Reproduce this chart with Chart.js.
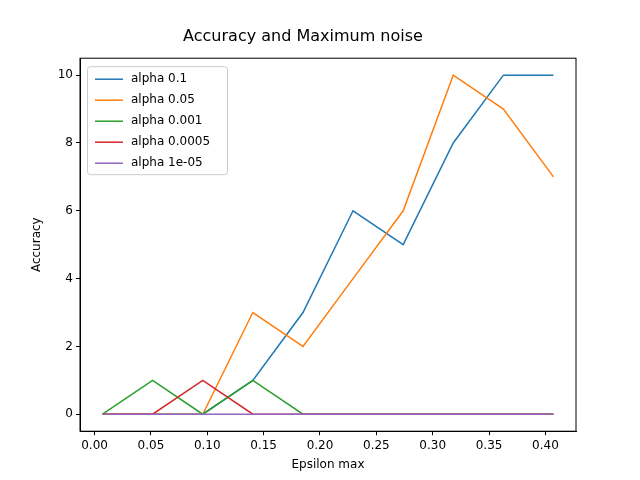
<!DOCTYPE html>
<html><head><script src="https://cdn.jsdelivr.net/npm/chart.js@4"></script>
<style>body{margin:0}canvas{display:block}</style></head>
<body><canvas id="c" width="640" height="480"></canvas>
<script>
const xs=[0.0071,0.0515,0.096,0.1404,0.1849,0.2293,0.2738,0.3182,0.3627,0.4071];
const labels=['alpha 0.1','alpha 0.05','alpha 0.001','alpha 0.0005','alpha 1e-05'];
const s1=[0,0,0,1,3,6,5,8,10,10];
const s2=[0,0,0,3,2,4,6,10,9,7];
const s3=[0,1,0,1,0,0,0,0,0,0];
const s4=[0,0,1,0,0,0,0,0,0,0];
const s5=[0,0,0,0,0,0,0,0,0,0];
const xTicks=[0,0.05,0.1,0.15,0.2,0.25,0.3,0.35,0.4];
const yTicks=[0,2,4,6,8,10];
const colors=['#1f77b4','#ff7f0e','#2ca02c','#d62728','#9467bd'];
const series=[s1,s2,s3,s4,s5];
const font={family:'DejaVu Sans',size:12};
const legendPlugin={id:'lg',afterDraw(ch){const c=ch.ctx,a=ch.chartArea;const x=a.left+7,y=a.top+8,w=140,h=108;
c.save();c.fillStyle='rgba(255,255,255,0.8)';c.strokeStyle='#ccc';c.lineWidth=1;
c.beginPath();c.roundRect(x+.5,y+.5,w,h,3);c.fill();c.stroke();
c.font='12px DejaVu Sans';c.textBaseline='middle';
labels.forEach((l,i)=>{const yy=y+13+i*21;c.strokeStyle=colors[i];c.lineWidth=1.5;c.beginPath();c.moveTo(x+8,yy);c.lineTo(x+36,yy);c.stroke();c.fillStyle='#000';c.fillText(l,x+44,yy);});
c.restore();}};
const grid={display:true,drawOnChartArea:false,drawTicks:true,tickLength:4,color:'#000'};
new Chart(document.getElementById('c'),{type:'line',
data:{datasets:series.map((s,i)=>({label:labels[i],order:labels.length-i,data:s.map((v,j)=>({x:xs[j],y:v})),borderColor:colors[i],backgroundColor:colors[i],borderWidth:1.5,pointRadius:0,tension:0}))},
options:{responsive:false,animation:false,
layout:{padding:{left:30,right:64,top:0,bottom:4}},
plugins:{legend:{display:false},tooltip:{enabled:false},
title:{display:true,text:'Accuracy and Maximum noise',color:'#000',font:{family:'DejaVu Sans',size:16,weight:'normal'},padding:{top:27,bottom:12}}},
scales:{
x:{type:'linear',min:-0.0129,max:0.4271,grid,border:{color:'#000'},
ticks:{color:'#000',font,maxRotation:0,padding:3,callback:v=>v.toFixed(2)},
afterBuildTicks(ax){ax.ticks=xTicks.map(v=>({value:v}));},
title:{display:true,text:'Epsilon max',color:'#000',font,padding:{top:2}}},
y:{min:-0.5,max:10.5,grid,border:{color:'#000'},
ticks:{color:'#000',font,padding:3},
afterBuildTicks(ax){ax.ticks=yTicks.map(v=>({value:v}));},
afterFit(ax){ax.width=50;},
title:{display:true,text:'Accuracy',color:'#000',font,padding:0}}}},
plugins:[legendPlugin,{id:'bx',afterDraw(ch){const c=ch.ctx,a=ch.chartArea;c.save();c.strokeStyle='#000';c.lineWidth=1;c.strokeRect(a.left,a.top,a.right-a.left,a.bottom-a.top);c.restore();}}]});
</script></body></html>
